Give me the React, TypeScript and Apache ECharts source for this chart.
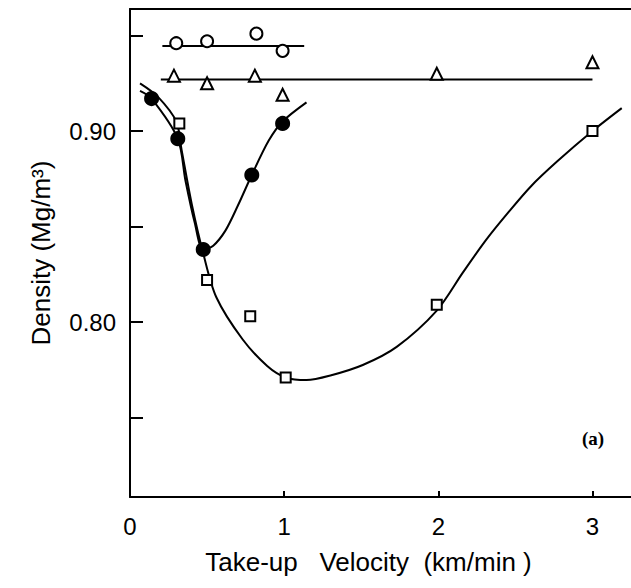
import React, { useEffect, useRef } from "react";
import * as echarts from "echarts";

// Measured points (take-up velocity km/min, density Mg/m^3)
const openCircleX = [0.3, 0.5, 0.82, 0.99];
const openCircleY = [0.946, 0.947, 0.951, 0.942];
const triangleX = [0.285, 0.5, 0.81, 0.99, 1.99, 3.0];
const triangleY = [0.929, 0.925, 0.929, 0.919, 0.93, 0.936];
const filledX = [0.14, 0.31, 0.475, 0.79, 0.99];
const filledY = [0.917, 0.896, 0.838, 0.877, 0.904];
const squareX = [0.32, 0.5, 0.78, 1.01, 1.99, 3.0];
const squareY = [0.904, 0.822, 0.803, 0.771, 0.809, 0.9];

// Fitted lines / curves
const circleLineX = [0.21, 1.13];
const circleLineY = [0.9445, 0.9445];
const triangleLineX = [0.2, 3.0];
const triangleLineY = [0.927, 0.927];
const filledCurveX = [0.065, 0.14, 0.31, 0.36, 0.42, 0.475, 0.54, 0.62, 0.7, 0.79, 0.9, 0.99, 1.145];
const filledCurveY = [0.921, 0.917, 0.896, 0.874, 0.852, 0.838, 0.84, 0.848, 0.861, 0.877, 0.895, 0.905, 0.915];
const squareCurveX = [0.065, 0.18, 0.3, 0.335, 0.4, 0.475, 0.56, 0.73, 0.89, 1.01, 1.145, 1.3, 1.51, 1.73, 1.99, 2.16, 2.31, 2.45, 2.6, 2.77, 3.0, 3.19];
const squareCurveY = [0.925, 0.918, 0.905, 0.89, 0.862, 0.836, 0.813, 0.791, 0.777, 0.771, 0.7696, 0.772, 0.7775, 0.787, 0.806, 0.826, 0.843, 0.857, 0.871, 0.884, 0.9, 0.912];

const xTicks = [0, 1, 2, 3];
const yTicks = [0.75, 0.8, 0.85, 0.9, 0.95];
const yLabels = [0.8, 0.9];

const zip = (xs: number[], ys: number[]) => xs.map((x, i) => [x, ys[i]]);

const FONT = "Liberation Sans";

export default function App() {
  const ref = useRef<HTMLDivElement>(null);
  useEffect(() => {
    document.body.style.margin = "0";
    if (!ref.current) return;
    const chart = echarts.init(ref.current, null, { renderer: "svg" });
    const lineStyle = { color: "#000", width: 2 };
    const curve = (xs: number[], ys: number[], smooth: number) => ({
      type: "line",
      data: zip(xs, ys),
      showSymbol: false,
      symbol: "none",
      smooth,
      lineStyle,
      z: 2,
    });
    const scatter = (xs: number[], ys: number[], symbol: string, size: number, filled: boolean) => ({
      type: "scatter",
      data: zip(xs, ys),
      symbol,
      symbolSize: size,
      itemStyle: {
        color: filled ? "#000" : "#fff",
        borderColor: "#000",
        borderWidth: 2,
        opacity: 1,
      },
      z: 5,
    });
    chart.setOption({
      animation: false,
      backgroundColor: "#fff",
      grid: { left: 130, top: 9, right: 0, bottom: 91 },
      xAxis: [
        {
          type: "value",
          min: 0,
          max: 3.25,
          position: "bottom",
          axisLine: { show: true, lineStyle: { color: "#000", width: 2 } },
          axisTick: { show: true, inside: true, length: 6, customValues: xTicks, lineStyle: { color: "#000", width: 2 } },
          axisLabel: {
            customValues: xTicks,
            margin: 17,
            fontFamily: FONT,
            fontSize: 24,
            color: "#000",
            formatter: (v: number) => String(v),
          },
          splitLine: { show: false },
          name: "Take-up   Velocity  (km/min )",
          nameLocation: "middle",
          nameGap: 52,
          nameTextStyle: { fontFamily: FONT, fontSize: 26, color: "#000", padding: [0, 24, 0, 0] },
        },
        {
          type: "value",
          min: 0,
          max: 3.25,
          position: "top",
          axisLine: { show: true, lineStyle: { color: "#000", width: 2 } },
          axisTick: { show: false },
          axisLabel: { show: false },
          splitLine: { show: false },
        },
      ],
      yAxis: {
        type: "value",
        min: 0.7084,
        max: 0.9639,
        axisLine: { show: true, lineStyle: { color: "#000", width: 2 } },
        axisTick: { show: true, inside: true, length: 13, customValues: yTicks, lineStyle: { color: "#000", width: 2 } },
        axisLabel: {
          customValues: yLabels,
          margin: 14,
          fontFamily: FONT,
          fontSize: 24,
          color: "#000",
          formatter: (v: number) => v.toFixed(2),
        },
        splitLine: { show: false },
        name: "Density (Mg/m³)",
        nameLocation: "middle",
        nameRotate: 90,
        nameGap: 76,
        nameTextStyle: { fontFamily: FONT, fontSize: 26, color: "#000" },
      },
      graphic: [
        {
          type: "text",
          left: 582,
          top: 429,
          style: {
            text: "(a)",
            fontFamily: "Liberation Serif",
            fontWeight: "bold",
            fontSize: 19,
            fill: "#000",
          },
        },
      ],
      series: [
        curve(circleLineX, circleLineY, 0),
        curve(triangleLineX, triangleLineY, 0),
        curve(filledCurveX, filledCurveY, 0.3),
        curve(squareCurveX, squareCurveY, 0.3),
        scatter(openCircleX, openCircleY, "circle", 12, false),
        scatter(triangleX, triangleY, "triangle", 12, false),
        scatter(filledX, filledY, "circle", 13, true),
        scatter(squareX, squareY, "rect", 10, false),
      ],
    });
    return () => chart.dispose();
  }, []);
  return <div ref={ref} style={{ width: 631, height: 588 }} />;
}
